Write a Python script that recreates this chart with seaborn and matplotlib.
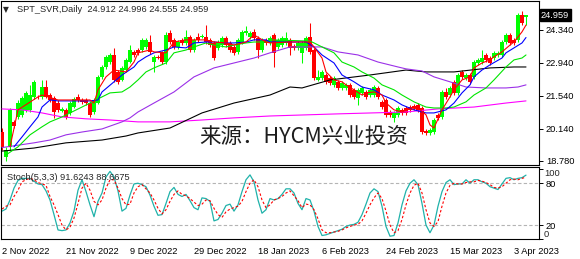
import numpy as np
import pandas as pd
import matplotlib
matplotlib.use("Agg")
import matplotlib.pyplot as plt
import matplotlib.transforms as mtransforms
import seaborn as sns

sns.set_theme(style="white")
plt.rcParams["font.family"] = ["Liberation Sans", "DejaVu Sans"]

# ---------------- data ----------------
symbol_header = "SPT_SVR,Daily  24.912 24.996 24.555 24.959"
stoch_header = "Stoch(5,3,3) 91.6243 88.6675"
watermark = "来源：HYCM兴业投资"
last_price = "24.959"

date_labels = ["2 Nov 2022", "21 Nov 2022", "9 Dec 2022", "29 Dec 2022", "18 Jan 2023",
               "6 Feb 2023", "24 Feb 2023", "15 Mar 2023", "3 Apr 2023"]
date_label_bars = [0, 16, 32, 48, 64, 80, 96, 112, 128]
price_ticks = [18.780, 20.140, 21.540, 22.940, 24.340]

opens = [
    20.01, 18.95, 19.38, 20.44, 20.65, 20.74, 20.95, 20.95, 21.50, 21.50,
    21.50, 21.92, 21.58, 21.46, 21.24, 20.90, 20.95, 20.82, 21.07, 21.50,
    21.37, 21.37, 21.24, 20.86, 21.24, 22.35, 22.77, 22.98, 23.28, 22.56,
    22.22, 22.64, 22.98, 23.41, 23.49, 23.49, 23.62, 23.83, 22.98, 23.20,
    23.37, 22.98, 24.21, 23.92, 23.62, 23.92, 23.79, 24.04, 23.49, 24.04,
    24.06, 24.04, 23.92, 23.79, 23.58, 23.70, 24.00, 23.79, 23.62, 23.41,
    23.83, 24.21, 24.04, 24.26, 24.00, 23.49, 23.92, 23.79, 24.13, 23.62,
    23.70, 23.79, 23.92, 23.66, 23.58, 23.37, 23.58, 24.04, 23.49, 22.22,
    22.30, 22.43, 22.30, 22.01, 22.14, 21.88, 21.88, 22.01, 21.80, 21.46,
    21.67, 21.71, 21.58, 21.58, 21.88, 21.29, 21.37, 20.86, 20.61, 20.74,
    20.95, 21.03, 21.07, 21.12, 21.16, 21.03, 20.06, 19.97, 20.01, 20.74,
    20.65, 21.71, 21.58, 22.14, 21.67, 22.56, 22.30, 22.43, 22.35, 22.94,
    22.98, 23.28, 23.15, 23.15, 23.28, 23.28, 23.83, 24.13, 23.92, 23.92,
    24.98, 24.912]
highs = [
    20.18, 19.38, 21.03, 20.52, 21.37, 21.54, 21.75, 22.01, 22.22, 21.58,
    22.22, 22.22, 21.67, 21.54, 21.37, 21.07, 21.03, 21.33, 21.50, 21.63,
    21.46, 21.46, 21.33, 21.46, 22.43, 22.86, 23.28, 23.37, 23.58, 22.64,
    22.81, 23.15, 23.70, 23.49, 23.58, 24.00, 24.00, 24.13, 23.28, 23.28,
    23.45, 24.26, 24.34, 24.00, 23.92, 24.00, 24.34, 24.13, 24.00, 24.21,
    24.17, 24.55, 24.00, 23.87, 23.92, 24.09, 24.09, 23.87, 23.70, 24.00,
    24.34, 24.51, 24.30, 24.38, 24.09, 24.00, 24.00, 24.09, 24.21, 24.00,
    24.09, 24.26, 24.00, 23.75, 23.87, 23.87, 24.09, 24.64, 23.58, 22.64,
    22.64, 22.52, 22.39, 22.39, 22.22, 22.18, 22.09, 22.09, 21.88, 21.88,
    21.97, 21.80, 21.88, 22.01, 21.97, 21.37, 21.46, 20.95, 20.90, 21.12,
    21.03, 21.12, 21.16, 21.20, 21.24, 21.12, 20.14, 20.18, 20.61, 20.82,
    21.80, 21.88, 21.97, 22.22, 22.52, 22.64, 22.52, 22.52, 23.07, 23.15,
    23.49, 23.37, 23.24, 23.45, 23.45, 23.92, 24.21, 24.21, 24.00, 25.06,
    25.15, 24.996]
lows = [
    19.25, 18.78, 19.25, 20.18, 20.57, 20.65, 20.86, 20.86, 21.41, 21.41,
    21.41, 21.46, 21.29, 20.61, 20.86, 20.86, 20.57, 20.74, 21.03, 21.29,
    21.20, 21.16, 20.65, 20.78, 21.20, 22.26, 22.69, 22.90, 22.14, 22.05,
    22.18, 22.56, 22.94, 23.20, 23.28, 23.41, 23.54, 23.32, 22.56, 23.11,
    22.90, 22.90, 23.75, 23.54, 23.54, 23.70, 23.70, 23.41, 23.41, 23.83,
    24.00, 23.75, 23.62, 23.07, 23.49, 23.62, 23.62, 23.41, 23.28, 23.32,
    23.75, 24.13, 23.96, 23.92, 23.15, 23.41, 23.70, 23.70, 22.77, 23.54,
    23.62, 23.70, 23.28, 23.49, 23.49, 22.94, 23.49, 23.32, 22.22, 22.18,
    22.22, 22.05, 22.01, 21.92, 21.80, 21.80, 21.80, 21.50, 21.41, 21.16,
    21.58, 21.41, 21.50, 21.50, 21.41, 20.99, 20.65, 20.65, 20.44, 20.65,
    20.74, 20.74, 20.86, 20.95, 20.86, 19.93, 19.89, 19.89, 19.93, 20.52,
    20.57, 21.41, 21.50, 21.58, 21.58, 22.26, 22.22, 22.05, 22.26, 22.86,
    22.90, 22.98, 22.86, 23.07, 23.20, 23.20, 23.75, 23.70, 23.70, 23.83,
    24.55, 24.555]
closes = [
    19.38, 19.25, 20.95, 20.27, 21.24, 21.46, 21.67, 21.58, 22.14, 21.48,
    21.92, 21.50, 21.37, 20.86, 20.95, 20.99, 20.65, 21.24, 21.41, 21.37,
    21.29, 21.24, 20.74, 21.37, 22.35, 22.77, 23.20, 23.28, 22.22, 22.14,
    22.73, 23.07, 23.49, 23.28, 23.37, 23.92, 23.92, 23.41, 23.20, 23.17,
    22.98, 24.13, 23.83, 23.62, 23.83, 23.79, 24.04, 23.49, 23.92, 23.92,
    24.09, 23.83, 23.70, 23.15, 23.83, 24.00, 23.70, 23.49, 23.37, 23.92,
    24.26, 24.30, 24.21, 24.00, 23.49, 23.92, 23.79, 24.00, 23.37, 23.92,
    24.00, 24.00, 23.58, 23.58, 23.79, 23.79, 24.00, 23.41, 22.30, 22.35,
    22.56, 22.14, 22.09, 22.30, 21.88, 22.09, 22.01, 21.58, 21.50, 21.80,
    21.88, 21.50, 21.80, 21.92, 21.50, 21.07, 20.74, 20.74, 20.82, 21.03,
    20.82, 20.82, 20.95, 21.03, 20.95, 20.01, 19.97, 20.10, 20.52, 20.61,
    21.71, 21.50, 21.88, 21.67, 22.43, 22.35, 22.43, 22.14, 22.98, 23.07,
    23.15, 23.07, 22.94, 23.37, 23.37, 23.83, 24.13, 23.79, 23.79, 24.98,
    24.64, 24.959]

# moving-average lines, read at bar indices
red_ma_bar = [2, 4, 9, 10, 14, 22, 23, 24, 26, 28, 31, 33, 34, 37, 38, 41, 43, 46, 51, 53, 56, 58,
              61, 63, 66, 67, 72, 77, 78, 80, 81, 83, 85, 86, 88, 90, 91, 93, 95, 96, 98, 100,
              101, 104, 106, 107, 108, 110, 112, 113, 115, 117, 118, 120, 122, 123, 125, 127,
              128, 130, 131]
red_ma_val = [19.38, 20.95, 21.50, 21.58, 21.37, 21.37, 21.24, 21.80, 22.35, 22.64, 22.56, 22.98,
              23.37, 23.49, 23.41, 23.37, 23.83, 23.92, 23.92, 23.83, 23.79, 23.70, 23.83, 24.13,
              23.83, 23.79, 23.83, 23.83, 23.62, 23.15, 22.56, 22.22, 22.14, 22.01, 21.80, 21.58,
              21.67, 21.71, 21.58, 21.24, 20.95, 20.86, 20.95, 21.03, 20.74, 20.31, 20.18, 20.95,
              21.50, 21.80, 22.22, 22.35, 22.73, 22.94, 23.07, 23.20, 23.41, 23.70, 23.83, 24.26,
              24.55]
blue_ma_bar = [3, 5, 7, 9, 10, 12, 14, 22, 24, 25, 28, 30, 33, 34, 36, 38, 41, 43, 46, 48, 51, 53,
               56, 58, 61, 63, 66, 67, 76, 78, 80, 83, 85, 88, 90, 93, 95, 98, 100, 103, 106, 108,
               111, 113, 115, 117, 118, 120, 122, 125, 126, 128, 130, 131]
blue_ma_val = [19.38, 19.80, 20.23, 20.65, 21.07, 21.37, 21.33, 21.33, 21.37, 21.71, 22.14, 22.43,
               22.77, 22.98, 23.20, 23.37, 23.49, 23.62, 23.58, 23.79, 23.83, 23.83, 23.79, 23.79,
               23.83, 23.92, 23.92, 23.83, 23.83, 23.62, 23.28, 22.94, 22.43, 22.14, 21.92, 21.80,
               21.58, 21.37, 21.16, 20.95, 20.82, 20.82, 20.95, 21.24, 21.67, 22.01, 22.35, 22.64,
               22.86, 23.15, 23.37, 23.58, 23.79, 24.02]
lime_ma_bar = [1, 4, 7, 10, 12, 15, 17, 20, 22, 25, 27, 30, 32, 34, 36, 38, 41, 43, 46, 48, 51, 53,
               56, 58, 61, 63, 66, 67, 77, 78, 80, 83, 85, 88, 90, 93, 95, 98, 100, 103, 106, 108,
               111, 113, 116, 118, 121, 123, 126, 128, 130, 131]
lime_ma_val = [19.04, 19.38, 19.89, 20.23, 20.44, 20.65, 20.82, 21.07, 21.24, 21.50, 21.67, 21.71,
               21.92, 22.22, 22.56, 22.73, 22.94, 23.37, 23.49, 23.62, 23.79, 23.70, 23.62, 23.70,
               23.79, 23.83, 23.83, 23.92, 23.87, 23.79, 23.62, 23.37, 22.98, 22.77, 22.56, 22.30,
               22.01, 21.80, 21.58, 21.29, 21.07, 21.03, 21.03, 21.07, 21.29, 21.58, 21.88, 22.22,
               22.77, 23.07, 23.15, 23.28]
violet_ma_bar = [0, 8, 12, 16, 20, 25, 30, 32, 34, 38, 43, 48, 53, 58, 63, 67, 72, 77, 80, 84, 89,
                 94, 99, 101, 105, 108, 112, 116, 121, 126, 129, 131]
violet_ma_val = [19.35, 19.55, 19.67, 19.89, 20.01, 20.14, 20.44, 20.61, 20.86, 21.24, 21.71, 22.35,
                 22.73, 22.94, 23.15, 23.37, 23.62, 23.62, 23.62, 23.41, 23.28, 22.98, 22.77, 22.69,
                 22.60, 22.35, 22.14, 21.92, 21.88, 21.88, 21.92, 22.01]
black_ma_bar = [0, 8, 16, 25, 31, 34, 42, 50, 58, 67, 72, 75, 82, 92, 101, 106, 113, 122, 128, 131]
black_ma_val = [19.20, 19.33, 19.55, 19.67, 19.84, 19.97, 20.18, 20.82, 21.24, 21.58, 21.92, 21.88,
                22.22, 22.43, 22.64, 22.56, 22.56, 22.73, 22.77, 22.77]
magenta_ma_bar = [0, 5, 10, 15, 21, 27, 34, 42, 50, 58, 67, 84, 101, 109, 118, 126, 131]
magenta_ma_val = [20.99, 20.95, 20.82, 20.65, 20.57, 20.52, 20.44, 20.44, 20.52, 20.61, 20.69,
                  20.78, 20.86, 20.99, 21.07, 21.24, 21.33]

stoch_main = [
    40, 43, 56, 73, 84, 87, 87, 87, 83, 79, 78, 69, 56, 35, 13, 12, 13, 23, 40, 70,
    85, 68, 49, 32, 54, 66, 89, 97, 89, 69, 40, 44, 63, 79, 80, 78, 75, 63, 47, 34,
    35, 51, 68, 74, 64, 61, 64, 55, 45, 42, 59, 58, 54, 26, 28, 37, 48, 50, 40, 49,
    68, 85, 92, 82, 56, 37, 42, 58, 56, 58, 64, 72, 72, 66, 51, 42, 58, 56, 40, 18,
    5, 6, 8, 10, 12, 14, 18, 20, 21, 24, 35, 50, 66, 72, 68, 47, 18, 4, 5, 23,
    49, 69, 80, 85, 78, 51, 20, 9, 20, 47, 68, 81, 85, 78, 79, 79, 85, 80, 85, 85,
    82, 80, 75, 73, 71, 79, 87, 88, 85, 87, 88, 91.6243]
stoch_signal = [
    43, 47, 49, 61, 70, 82, 85, 87, 85, 81, 79, 77, 61, 49, 35, 20, 13, 17, 30, 51,
    73, 80, 70, 54, 49, 56, 73, 85, 85, 73, 58, 49, 50, 66, 75, 78, 72, 66, 56, 44,
    36, 42, 54, 64, 69, 64, 62, 58, 53, 48, 50, 56, 55, 44, 35, 31, 39, 43, 45, 47,
    54, 68, 80, 85, 75, 56, 45, 49, 56, 58, 61, 66, 69, 62, 55, 45, 50, 49, 42, 29,
    13, 9, 9, 10, 11, 13, 16, 18, 20, 21, 26, 37, 49, 59, 66, 58, 40, 20, 9, 12,
    28, 49, 66, 77, 80, 66, 42, 23, 18, 25, 47, 66, 77, 80, 79, 79, 81, 82, 82, 84,
    83, 81, 78, 74, 73, 75, 80, 85, 86, 85, 87, 88.6675]

# ---------------- figure ----------------
W, H = 580, 259
fig = plt.figure(figsize=(W / 100, H / 100), dpi=100)
fig.patch.set_facecolor("white")


def rect(l, t, r, b):
    return [l / W, 1 - b / H, (r - l) / W, (b - t) / H]


ax = fig.add_axes(rect(1, 1, 539, 165))
ax2 = fig.add_axes(rect(1, 167, 539, 239), sharex=ax)

BULL = "#00FF00"
BEAR = "#FF0000"
FS = 6.7

o = np.array(opens)
c = np.array(closes)
hi = np.array(highs)
lo = np.array(lows)
bars = np.arange(len(c))
up = c >= o
cols = np.where(up, BULL, BEAR)

ax.vlines(bars, lo, hi, colors=cols, lw=0.75, zorder=3)
body_bottom = np.minimum(o, c)
body_h = np.maximum(np.abs(c - o), 0.025)
ax.bar(bars, body_h, bottom=body_bottom, width=0.78, color=cols, linewidth=0, zorder=4)

ma_specs = [
    (magenta_ma_bar, magenta_ma_val, "#FF00FF"),
    (black_ma_bar, black_ma_val, "#000000"),
    (violet_ma_bar, violet_ma_val, "#9B30E8"),
    (lime_ma_bar, lime_ma_val, "#00E600"),
    (blue_ma_bar, blue_ma_val, "#0000FF"),
    (red_ma_bar, red_ma_val, "#FF0000"),
]
for xb, yv, col in ma_specs:
    sns.lineplot(x=xb, y=yv, ax=ax, color=col, lw=0.8, estimator=None, sort=False, zorder=5)

ax.set_xlim(-0.25, 134.25)
ax.set_ylim(18.61, 25.57)
ax.yaxis.tick_right()
ax.set_yticks(price_ticks)
ax.set_yticklabels([f"{v:.3f}" for v in price_ticks], fontsize=FS)
ax.tick_params(axis="y", direction="out", length=3, width=0.7, pad=2, colors="black")
ax.tick_params(axis="x", bottom=False, labelbottom=False)
ax.set_xlabel("")
ax.set_ylabel("")
for s in ax.spines.values():
    s.set_color("black")
    s.set_linewidth(0.8)

ax.text(3 / W, 1 - 10 / H, "▼", transform=fig.transFigure, fontsize=5.5, va="center", ha="left",
        family=["DejaVu Sans"])
ax.text(17 / W, 1 - 10 / H, symbol_header, transform=fig.transFigure, fontsize=FS,
        va="center", ha="left")
ax.text(304 / W, 1 - 138 / H, watermark, transform=fig.transFigure, fontsize=15.5,
        va="center", ha="center", color="#1e1e1e",
        family=["Noto Sans CJK SC", "DejaVu Sans"], zorder=6)
ax.text(541 / W, 1 - 15 / H, last_price, transform=fig.transFigure, fontsize=FS,
        va="center", ha="left", color="white",
        bbox=dict(boxstyle="square,pad=0.15", fc="black", ec="black"))

# ---------------- stochastic ----------------
sns.lineplot(x=bars, y=stoch_main, ax=ax2, color="#20B2AA", lw=0.9, estimator=None, sort=False)
sns.lineplot(x=bars, y=stoch_signal, ax=ax2, color="#FF0000", lw=0.8, estimator=None, sort=False,
             linestyle=(0, (2.2, 1.8)))
for lvl in (20, 80):
    ax2.axhline(lvl, color="#B4B4B4", lw=0.8, linestyle=(0, (3, 2)), zorder=0)

ax2.set_ylim(0, 103.3)
ax2.yaxis.tick_right()
ax2.set_yticks([0, 20, 80, 100])
ax2.set_yticklabels(["", "20", "80", ""], fontsize=FS)
ax2.tick_params(axis="y", direction="out", length=3, width=0.7, pad=2, colors="black")
tr = mtransforms.blended_transform_factory(ax2.transAxes, ax2.transData)
ax2.text(1.0 + 5 / 538, 100, "100", transform=tr, fontsize=FS, va="top", ha="left")
ax2.text(1.0 + 5 / 538, 0, "0", transform=tr, fontsize=FS, va="bottom", ha="left")

ax2.set_xticks(date_label_bars)
ax2.set_xticklabels(date_labels, fontsize=FS, ha="left")
ax2.tick_params(axis="x", direction="out", length=3, width=0.7, pad=3, colors="black")
ax2.set_xlabel("")
ax2.set_ylabel("")
for s in ax2.spines.values():
    s.set_color("black")
    s.set_linewidth(0.8)
ax2.text(7 / W, 1 - 177 / H, stoch_header, transform=fig.transFigure, fontsize=FS,
         va="center", ha="left")

fig.savefig("out.png", dpi=100, facecolor="white")
